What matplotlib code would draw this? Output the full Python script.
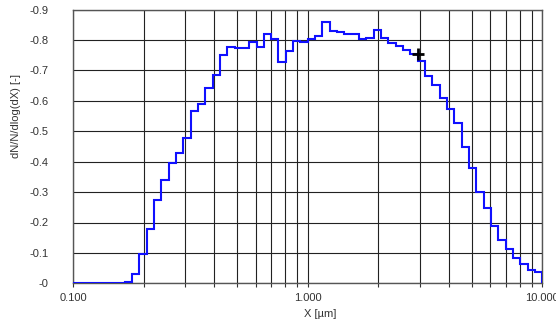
import matplotlib
matplotlib.use("Agg")
import matplotlib.pyplot as plt
from matplotlib.ticker import FixedLocator, FuncFormatter, NullFormatter

plt.rcParams["font.family"] = ["Liberation Sans", "DejaVu Sans"]
plt.rcParams["font.size"] = 8

# Size-class edges [um] (32 classes per decade, first class lumps 0.1-0.165)
EDGES = [0.1000, 0.1654, 0.1778, 0.1911, 0.2054, 0.2207, 0.2371, 0.2548, 0.2738,
         0.2943, 0.3162, 0.3398, 0.3652, 0.3924, 0.4217, 0.4532, 0.4870, 0.5233,
         0.5623, 0.6043, 0.6494, 0.6978, 0.7499, 0.8058, 0.8660, 0.9306, 1.0000,
         1.0746, 1.1548, 1.2409, 1.3335, 1.4330, 1.5399, 1.6548, 1.7783, 1.9110,
         2.0535, 2.2067, 2.3714, 2.5483, 2.7384, 2.9427, 3.1623, 3.3982, 3.6517,
         3.9242, 4.2170, 4.5316, 4.8697, 5.2330, 5.6234, 6.0430, 6.4938, 6.9783,
         7.4989, 8.0584, 8.6596, 9.3057, 10.0000]

# dN/N/dlog(dX) per class (reported as negative values)
DENSITY = [0.0, -0.003, -0.030, -0.095, -0.180, -0.275, -0.340, -0.397, -0.430,
           -0.477, -0.567, -0.589, -0.643, -0.685, -0.751, -0.776, -0.773, -0.773,
           -0.795, -0.776, -0.819, -0.803, -0.727, -0.764, -0.797, -0.795, -0.805,
           -0.814, -0.859, -0.831, -0.826, -0.819, -0.820, -0.802, -0.808, -0.833,
           -0.806, -0.789, -0.782, -0.766, -0.753, -0.732, -0.682, -0.652, -0.608,
           -0.572, -0.526, -0.449, -0.378, -0.300, -0.249, -0.188, -0.143, -0.113,
           -0.084, -0.062, -0.044, -0.037]

Y_TICKS = [0.0, -0.1, -0.2, -0.3, -0.4, -0.5, -0.6, -0.7, -0.8, -0.9]
X_MAJOR = [0.1, 1.0, 10.0]
X_MINOR = [0.2, 0.3, 0.4, 0.5, 0.6, 0.7, 0.8, 0.9, 2, 3, 4, 5, 6, 7, 8, 9]
CURSOR = (2.9427, -0.753)

fig = plt.figure(figsize=(5.56, 3.21), dpi=100)
ax = fig.add_axes([73.3 / 556, 1 - 283.3 / 321, 469 / 556, 273.6 / 321])

ax.stairs(DENSITY, EDGES, color="#1010ff", lw=1.5, zorder=3)
ax.plot(*CURSOR, marker="+", color="black", ms=8, mew=2, zorder=4)

ax.set_xscale("log")
ax.set_xlim(0.1, 10)
ax.set_ylim(0, -0.9)

ax.xaxis.set_major_locator(FixedLocator(X_MAJOR))
ax.xaxis.set_minor_locator(FixedLocator(X_MINOR))
ax.xaxis.set_major_formatter(FuncFormatter(lambda v, _: f"{v:.3f}"))
ax.xaxis.set_minor_formatter(NullFormatter())
ax.yaxis.set_major_locator(FixedLocator(Y_TICKS))
ax.yaxis.set_major_formatter(FuncFormatter(lambda v, _: f"-{abs(v):g}"))

ax.grid(True, which="both", color="#222222", lw=0.8)
ax.tick_params(axis="x", which="both", direction="out", length=3, width=0.8,
               color="#333333", pad=4, labelcolor="#333333")
ax.tick_params(axis="y", length=0, pad=18, labelcolor="#333333")
for s in ax.spines.values():
    s.set_color("#555555")
    s.set_linewidth(1.0)

ax.set_xlabel("X [µm]", color="#333333")
ax.xaxis.set_label_coords(0.526, -0.095)
ax.set_ylabel("dN/N/dlog(dX) [-]", color="#333333")
ax.yaxis.set_label_coords(-0.112, 0.61)

fig.savefig("out.png", dpi=100)
